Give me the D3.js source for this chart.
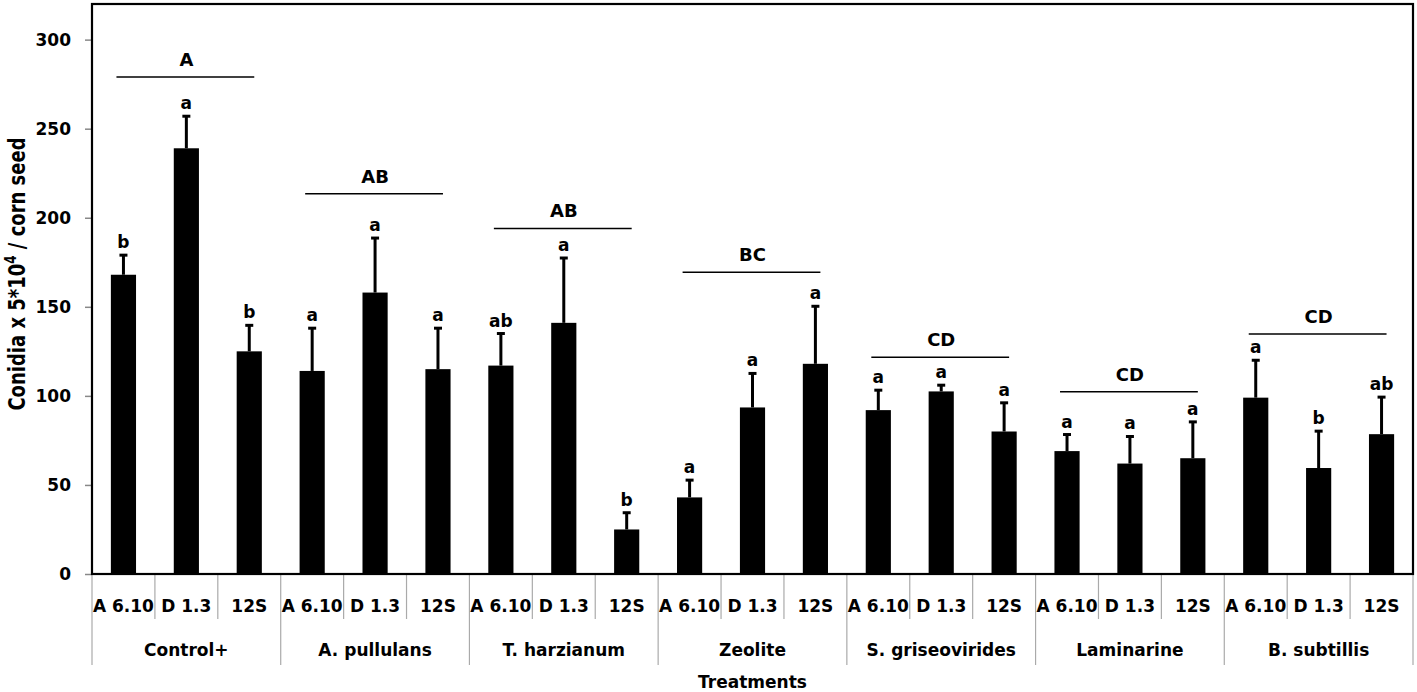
<!DOCTYPE html>
<html>
<head>
<meta charset="utf-8">
<script src="https://cdn.jsdelivr.net/npm/d3@7"></script>
<style>
  html, body { margin: 0; padding: 0; background: #fff; }
  svg { display: block; font-family: "DejaVu Sans", sans-serif; font-weight: bold; }
</style>
</head>
<body>
<svg id="chart" width="1417" height="692"></svg>
<script>
// ---- data ----
const treatments = ['Control+', 'A. pullulans', 'T. harzianum', 'Zeolite', 'S. griseovirides', 'Laminarine', 'B. subtillis'];
const strains = ['A 6.10', 'D 1.3', '12S'];

// means per treatment, in strain order
const means = [
  [168, 239, 125],
  [114, 158, 115],
  [117, 141, 25],
  [43, 93.5, 118],
  [92, 102.5, 80],
  [69, 62, 65],
  [99, 59.5, 78.5]
];
// top of the error bar
const errTops = [
  [179, 257, 139.6],
  [138, 188.6, 138],
  [135, 177.4, 34.4],
  [52.7, 112.6, 150.3],
  [103.2, 106, 96.1],
  [78.3, 77.2, 85.4],
  [120, 80.2, 99.3]
];
const barLetters = [
  ['b', 'a', 'b'],
  ['a', 'a', 'a'],
  ['ab', 'a', 'b'],
  ['a', 'a', 'a'],
  ['a', 'a', 'a'],
  ['a', 'a', 'a'],
  ['a', 'b', 'ab']
];
const groupLetters = ['A', 'AB', 'AB', 'BC', 'CD', 'CD', 'CD'];
const groupLineLevels = [279, 213.5, 194, 169.4, 121.7, 102.3, 134.8];
const yTicks = [0, 50, 100, 150, 200, 250, 300];

// ---- layout ----
const margin = { left: 92, right: 4, top: 4, bottom: 118 };
const W = 1417, H = 692;
const plotW = W - margin.left - margin.right;
const plotH = H - margin.top - margin.bottom;

const rows = [];
treatments.forEach((t, gi) => {
  strains.forEach((s, si) => {
    rows.push({
      key: gi + '|' + si, group: gi, strain: s,
      mean: means[gi][si], err: errTops[gi][si], letter: barLetters[gi][si]
    });
  });
});

const svg = d3.select('#chart');
const g = svg.append('g').attr('transform', `translate(${margin.left},${margin.top})`);

const x = d3.scaleBand().domain(rows.map(d => d.key)).range([0, plotW]).paddingInner(0.6).paddingOuter(0.3);
const y = d3.scaleLinear().domain([0, 320]).range([plotH, 0]);
const step = x.step();
const xGroup = d3.scaleBand().domain(treatments).range([0, plotW]);

// y axis
const yAxis = g.append('g')
  .call(d3.axisLeft(y).tickValues(yTicks).tickSize(7).tickPadding(14));
yAxis.select('.domain').remove();
yAxis.selectAll('.tick line').attr('stroke', '#888').attr('stroke-width', 1.5);
yAxis.selectAll('.tick text').attr('font-size', 17).attr('fill', '#000')
  .attr('font-family', '"DejaVu Sans", sans-serif').attr('font-weight', 'bold');

// bars
g.selectAll('rect.bar').data(rows).enter().append('rect')
  .attr('class', 'bar')
  .attr('x', d => x(d.key))
  .attr('width', x.bandwidth())
  .attr('y', d => y(d.mean))
  .attr('height', d => y(0) - y(d.mean))
  .attr('fill', '#000');

// error bars
const eb = g.selectAll('g.err').data(rows).enter().append('g').attr('class', 'err');
eb.append('line')
  .attr('x1', d => x(d.key) + x.bandwidth() / 2).attr('x2', d => x(d.key) + x.bandwidth() / 2)
  .attr('y1', d => y(d.mean)).attr('y2', d => y(d.err))
  .attr('stroke', '#000').attr('stroke-width', 3);
eb.append('line')
  .attr('x1', d => x(d.key) + x.bandwidth() / 2 - 4).attr('x2', d => x(d.key) + x.bandwidth() / 2 + 4)
  .attr('y1', d => y(d.err)).attr('y2', d => y(d.err))
  .attr('stroke', '#000').attr('stroke-width', 3);

// small letters over bars
g.selectAll('text.bl').data(rows).enter().append('text')
  .attr('class', 'bl')
  .attr('x', d => x(d.key) + x.bandwidth() / 2)
  .attr('y', d => y(d.err) - 7)
  .attr('text-anchor', 'middle')
  .attr('font-size', 17)
  .text(d => d.letter);

// group lines and letters
treatments.forEach((t, gi) => {
  const first = x(gi + '|0') + x.bandwidth() / 2;
  const last = x(gi + '|2') + x.bandwidth() / 2;
  const ly = y(groupLineLevels[gi]);
  g.append('line')
    .attr('x1', first - 7).attr('x2', last + 5)
    .attr('y1', ly).attr('y2', ly)
    .attr('stroke', '#000').attr('stroke-width', 1.5);
  g.append('text')
    .attr('x', (first + last) / 2)
    .attr('y', ly - 11)
    .attr('text-anchor', 'middle')
    .attr('font-size', 18)
    .text(groupLetters[gi]);
});

// category tick lines below axis
const catLines = d3.range(0, rows.length + 1);
g.selectAll('line.cat').data(catLines).enter().append('line')
  .attr('x1', i => i * step).attr('x2', i => i * step)
  .attr('y1', plotH)
  .attr('y2', i => (i % 3 === 0) ? plotH + 91 : plotH + 45)
  .attr('stroke', '#aaa').attr('stroke-width', 1.2);

// strain labels
g.selectAll('text.sl').data(rows).enter().append('text')
  .attr('class', 'sl')
  .attr('x', d => x(d.key) + x.bandwidth() / 2)
  .attr('y', plotH + 38)
  .attr('text-anchor', 'middle')
  .attr('font-size', 17)
  .text(d => d.strain);

// treatment labels
g.selectAll('text.tl').data(treatments).enter().append('text')
  .attr('class', 'tl')
  .attr('x', d => xGroup(d) + xGroup.bandwidth() / 2)
  .attr('y', plotH + 82)
  .attr('text-anchor', 'middle')
  .attr('font-size', 17)
  .text(d => d);

// plot frame
g.append('rect')
  .attr('x', 0).attr('y', 0).attr('width', plotW).attr('height', plotH)
  .attr('fill', 'none').attr('stroke', '#000').attr('stroke-width', 2.2);

// axis titles
svg.append('text')
  .attr('x', margin.left + plotW / 2)
  .attr('y', H - 4)
  .attr('text-anchor', 'middle')
  .attr('font-size', 17)
  .text('Treatments');

const yt = svg.append('text')
  .attr('transform', 'translate(25,274) scale(1.3,1) rotate(-90)')
  .attr('text-anchor', 'middle')
  .attr('font-size', 18);
yt.append('tspan').text('Conidia x 5*10');
yt.append('tspan').attr('dy', -7).attr('font-size', 12).text('4');
yt.append('tspan').attr('dy', 7).text(' / corn seed');
</script>
</body>
</html>
